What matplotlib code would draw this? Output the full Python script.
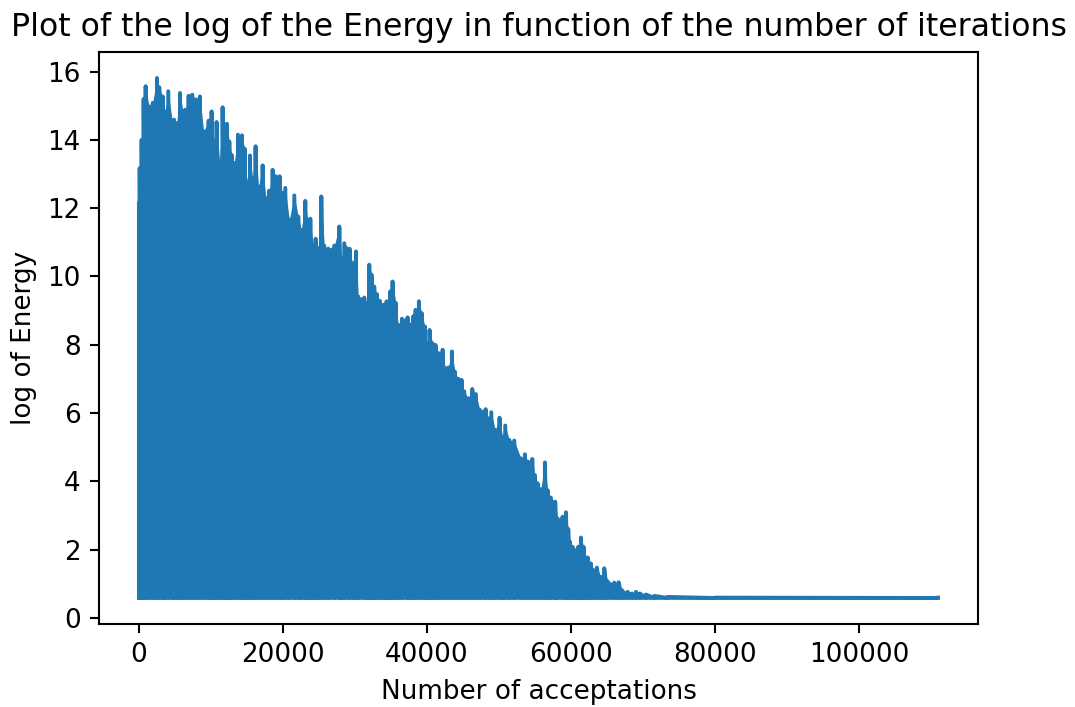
import matplotlib
matplotlib.use("Agg")
import matplotlib.pyplot as plt

# upper envelope of the log energy trace
acceptations = [
    0, 100, 370, 650, 930, 1390, 1900, 2500, 2820, 3290, 3610, 4070, 4680, 4860, 5230, 5700,
    6110, 6440, 6900, 7410, 7960, 8470, 8980, 9680, 10090, 10460, 10790, 11200, 11620, 11950,
    12220, 12550, 12870, 13240, 13750, 14310, 14680, 15000, 15420, 15790, 16200, 16620, 17180,
    17640, 18100, 18570, 19030, 19540, 19910, 20330, 20880, 21580, 22130, 22550, 23100, 23430,
    23800, 24170, 24540, 24910, 25330, 25740, 26300, 27130, 27830, 28150, 28520, 29260, 29670,
    30140, 30460, 31300, 31670, 31990, 32310, 32680, 33050, 33470, 33980, 34400, 34720, 34910,
    35230, 35690, 36020, 36530, 37310, 37780, 38100, 38430, 38890, 39300, 39720, 40000, 40370,
    40790, 41200, 41620, 42180, 42550, 42960, 43470, 43890, 44350, 44810, 45190, 45740, 46300,
    46810, 47360, 48150, 48570, 48940, 49490, 50090, 50510, 50880, 51440, 52130, 53060, 53610,
    54070, 54630, 55000, 55370, 55830, 56390, 56760, 57220, 57820, 58150, 58840, 59310, 59630,
    59860, 60230, 60700, 61020, 61390, 61760, 61950, 62320, 62780, 63100, 63610, 64170, 64630,
    65100, 66020, 66620, 67090, 67870, 68480, 69030, 69590, 70420, 71580, 73430, 80000, 111000,
]
log_energy_top = [
    12.15, 13.17, 14.0, 15.2, 15.57, 14.98, 15.08, 15.81, 15.54, 15.27, 14.83, 15.42, 14.44, 14.59, 14.49, 15.37,
    14.83, 14.88, 15.29, 15.32, 15.18, 15.27, 14.25, 14.56, 14.83, 13.95, 14.52, 13.37, 14.95, 14.44,
    14.47, 13.95, 13.56, 13.32, 14.15, 14.13, 13.74, 12.78, 13.54, 12.88, 13.81, 12.63, 13.25,
    12.29, 12.51, 13.12, 12.93, 12.93, 12.44, 12.59, 11.66, 12.37, 11.75, 11.36, 12.21, 11.66,
    11.69, 10.92, 11.10, 10.83, 12.34, 10.90, 10.81, 10.90, 11.46, 10.53, 10.97, 10.81, 10.39,
    10.73, 9.41, 9.38, 9.22, 10.34, 10.05, 9.70, 9.48, 9.28, 9.17, 9.27, 8.58, 9.56,
    9.85, 9.22, 8.58, 8.76, 8.80, 8.58, 8.83, 9.02, 9.27, 8.92, 8.53, 8.04, 8.43,
    8.04, 7.99, 7.75, 7.85, 7.31, 7.33, 7.80, 7.21, 7.0, 6.97, 6.63, 6.43, 6.70,
    6.55, 6.09, 6.11, 5.84, 6.02, 5.50, 5.86, 5.30, 5.63, 5.21, 5.19, 4.67, 4.79,
    4.57, 4.65, 4.18, 3.94, 3.77, 4.55, 3.74, 3.52, 3.40, 2.91, 2.96, 3.09, 2.60,
    2.23, 2.08, 1.98, 2.08, 2.35, 2.08, 1.69, 1.77, 1.59, 1.40, 1.47, 1.20, 1.45,
    1.07, 1.03, 1.04, 0.81, 0.76, 0.71, 0.76, 0.71, 0.68, 0.64, 0.61, 0.59, 0.59,
]
FLOOR = 0.58
BLUE = "#1f77b4"
DPI = 189

fig = plt.figure(figsize=(1075 / DPI, 707 / DPI), dpi=DPI)
ax = fig.add_axes([99 / 1075, 83 / 707, 879 / 1075, 572 / 707])

# the trace swings between the floor and the envelope at every point
trace_x = []
trace_y = []
for x, top in zip(acceptations, log_energy_top):
    trace_x += [x, x]
    trace_y += [FLOOR, top]

ax.fill_between(acceptations, FLOOR, log_energy_top, color=BLUE, linewidth=0)
ax.plot(trace_x, trace_y, color=BLUE)
ax.plot([acceptations[0], acceptations[-1]], [FLOOR, FLOOR], color=BLUE, linewidth=1)

ax.set_title("Plot of the log of the Energy in function of the number of iterations")
ax.set_xlabel("Number of acceptations")
ax.set_ylabel("log of Energy")

fig.savefig("out.png", dpi=DPI)
